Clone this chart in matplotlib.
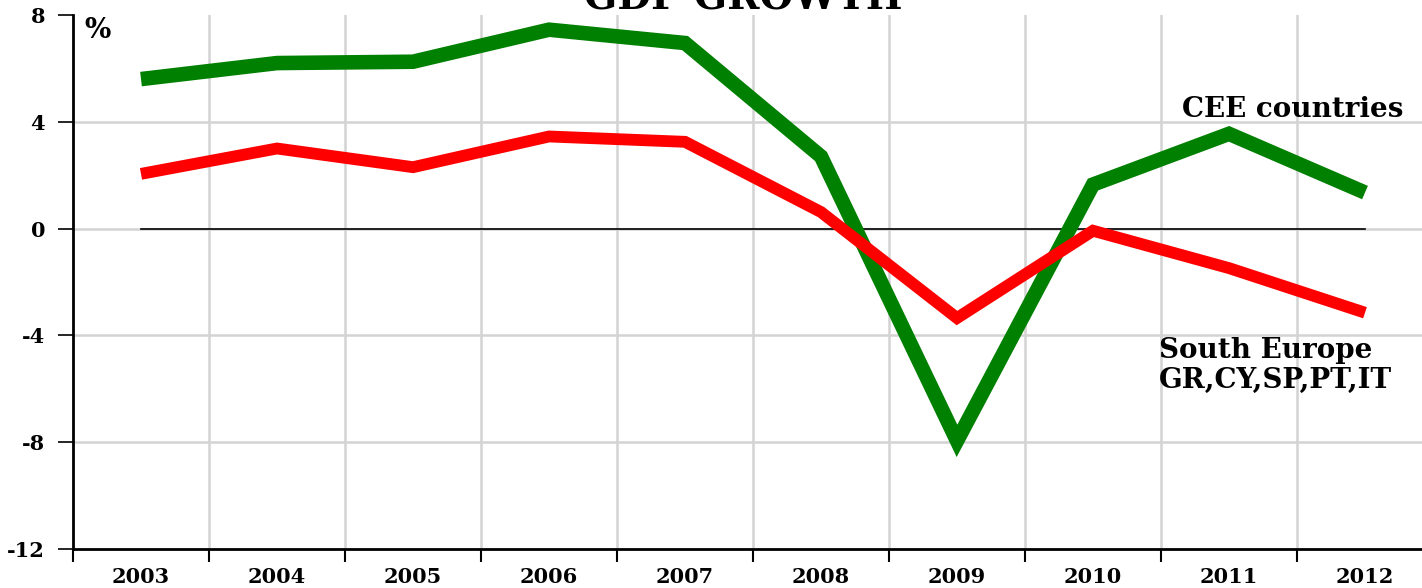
import numpy as np
import matplotlib.pyplot as plt

# Dados
anos = ['2003', '2004', '2005', '2006', '2007', '2008', '2009', '2010', '2011', '2012']
cee = [5.6, 6.2, 6.25, 7.45, 6.95, 2.7, -7.95, 1.65, 3.55, 1.35]
sul_europa = [2.05, 3.0, 2.3, 3.45, 3.25, 0.62, -3.35, -0.08, -1.48, -3.15]
y_ticks = [-12, -8, -4, 0, 4, 8]

plt.rcParams['font.family'] = ['DejaVu Serif']
plt.rcParams['font.weight'] = 'bold'

fig = plt.figure(figsize=(14.22, 5.88), dpi=100)
ax = fig.add_axes([73 / 1422, 39 / 588, 1360 / 1422, 534 / 588])

x = np.arange(len(anos))

# linha do zero entre o primeiro e o ultimo ano
ax.plot([x[0], x[-1]], [0, 0], color='black', lw=1.2, zorder=3)

ax.plot(x, cee, color='#008000', lw=10.5, solid_capstyle='butt',
        solid_joinstyle='miter', zorder=4)
ax.plot(x, sul_europa, color='#ff0000', lw=8.5, solid_capstyle='butt',
        solid_joinstyle='miter', zorder=5)

ax.set_xlim(-0.5, len(anos) - 0.5)
ax.set_ylim(-12, 8)

ax.set_yticks(y_ticks)
ax.set_yticklabels([str(v) for v in y_ticks], fontsize=15, fontweight='bold')
ax.set_xticks(x)
ax.set_xticklabels(anos, fontsize=15, fontweight='bold')
ax.set_xticks(np.arange(len(anos) + 1) - 0.5, minor=True)

ax.tick_params(axis='x', which='major', length=0, pad=13)
ax.tick_params(axis='x', which='minor', length=9, width=1.5, direction='out')
ax.tick_params(axis='y', which='major', length=11, width=1.2, pad=9)

# grades
ax.grid(False)
for v in y_ticks[1:-1]:
    ax.axhline(v, color='#d3d3d3', lw=1.8, zorder=1)
for b in np.arange(1, len(anos) + 1) - 0.5:
    ax.axvline(b, color='#d3d3d3', lw=1.8, zorder=1)

for s in ['top', 'right']:
    ax.spines[s].set_visible(False)
ax.spines['left'].set_linewidth(2)
ax.spines['bottom'].set_linewidth(2)

# titulo cortado no topo, como no original
fig.text(743 / 1422, 1 - 10 / 588, 'GDP GROWTH', fontsize=28,
         fontweight='bold', ha='center', va='baseline')
fig.text(84 / 1422, 1 - 17 / 588, '%', fontsize=20, fontweight='bold',
         ha='left', va='top')

ax.text(7.654, 4.18, 'CEE countries', fontsize=20, fontweight='bold',
        ha='left', va='baseline')
ax.text(7.485, -4.85, 'South Europe', fontsize=20, fontweight='bold',
        ha='left', va='baseline')
ax.text(7.485, -5.97, 'GR,CY,SP,PT,IT', fontsize=20, fontweight='bold',
        ha='left', va='baseline')

plt.savefig('out.png', dpi=100)
plt.close()
